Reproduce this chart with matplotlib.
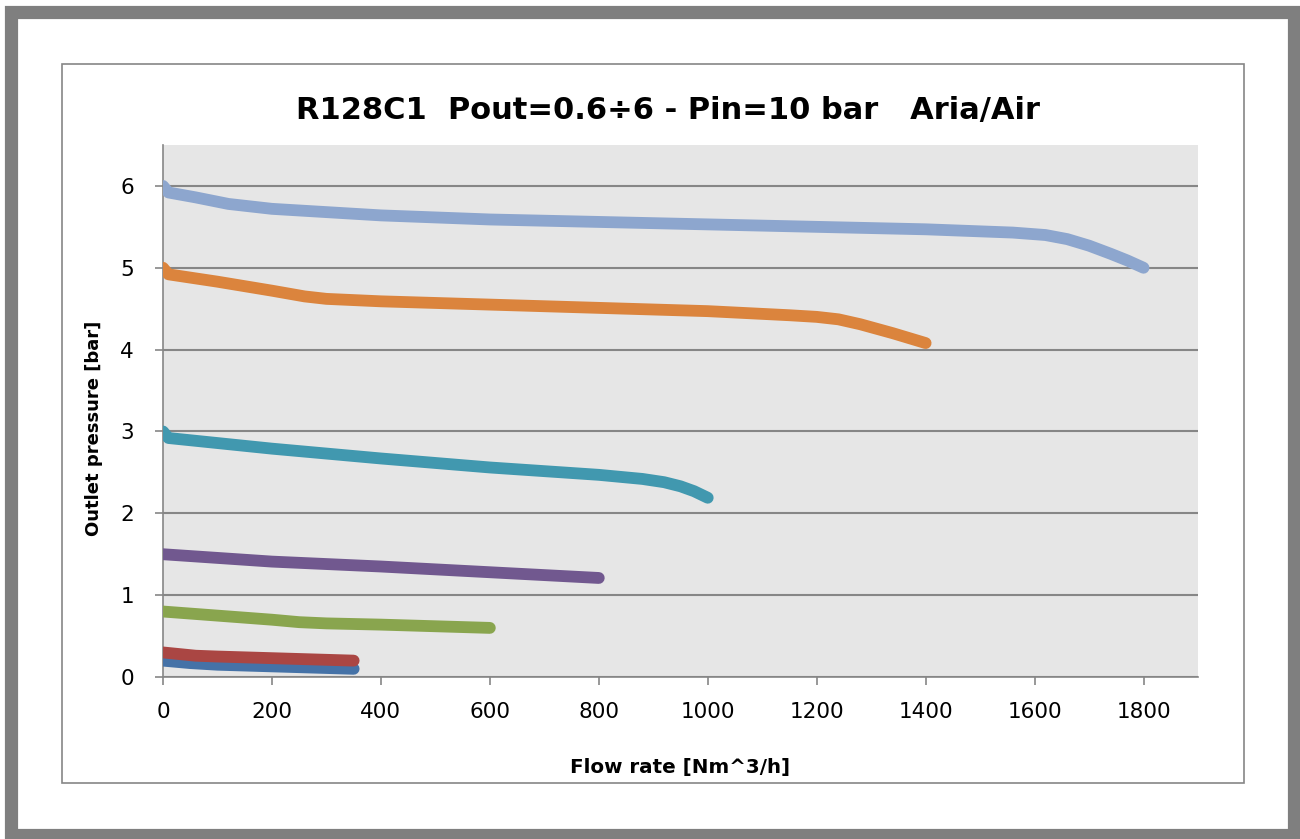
import matplotlib
matplotlib.use("Agg")
import matplotlib.pyplot as plt
from matplotlib.patches import Rectangle

# curve data: flow rate [Nm^3/h] vs outlet pressure [bar]
x_01 = [0, 50, 100, 200, 350]
y_01 = [0.20, 0.17, 0.15, 0.13, 0.10]
x_03 = [0, 30, 60, 100, 200, 350]
y_03 = [0.30, 0.28, 0.26, 0.25, 0.23, 0.20]
x_08 = [0, 100, 200, 250, 300, 400, 600]
y_08 = [0.80, 0.75, 0.70, 0.67, 0.655, 0.64, 0.60]
x_15 = [0, 200, 400, 600, 800]
y_15 = [1.50, 1.41, 1.35, 1.28, 1.21]
x_3 = [0, 10, 200, 400, 600, 800, 880, 920, 950, 975, 1000]
y_3 = [3.00, 2.92, 2.79, 2.67, 2.56, 2.47, 2.42, 2.38, 2.33, 2.27, 2.19]
x_5 = [0, 10, 100, 200, 260, 300, 400, 600, 1000, 1150, 1200, 1240, 1280, 1340, 1400]
y_5 = [5.00, 4.92, 4.83, 4.72, 4.65, 4.62, 4.59, 4.55, 4.47, 4.42, 4.40, 4.37, 4.31, 4.20, 4.08]
x_6 = [0, 10, 60, 120, 200, 300, 400, 600, 1000, 1400, 1560, 1620, 1660, 1700, 1740, 1770, 1800]
y_6 = [6.00, 5.92, 5.86, 5.78, 5.72, 5.68, 5.64, 5.59, 5.53, 5.47, 5.43, 5.40, 5.35, 5.27, 5.17, 5.09, 5.00]

series = [
    (x_01, y_01, '#4572A7'),
    (x_03, y_03, '#AA4643'),
    (x_08, y_08, '#89A54E'),
    (x_15, y_15, '#71588F'),
    (x_3, y_3, '#4198AF'),
    (x_5, y_5, '#DB843D'),
    (x_6, y_6, '#8DA6CE'),
]

W, H = 1300, 839
fig = plt.figure(figsize=(W / 100, H / 100), dpi=100)
fig.patch.set_facecolor('white')

# outer thick gray frame and inner chart border
fig.patches.append(Rectangle((10.5 / W, 1 - 834.5 / H), 1283 / W, 823 / H,
                             transform=fig.transFigure, fill=False,
                             edgecolor='#7f7f7f', linewidth=9.5))
fig.patches.append(Rectangle((62 / W, 1 - 783 / H), 1182 / W, 719 / H,
                             transform=fig.transFigure, fill=False,
                             edgecolor='#868686', linewidth=1.2))

ax = fig.add_axes([163 / W, 1 - 677 / H, (1198 - 163) / W, (677 - 145) / H])
ax.set_facecolor('#e6e6e6')

for xs, ys, c in series:
    ax.plot(xs, ys, color=c, lw=8.5, solid_capstyle='round',
            solid_joinstyle='round', zorder=3)

ax.set_xlim(0, 1900)
ax.set_ylim(0, 6.5)
ax.set_xticks(range(0, 1801, 200))
ax.set_yticks(range(0, 7))
ax.grid(axis='y', color='#868686', lw=1.5, zorder=1)
ax.set_axisbelow(True)

for s in ['top', 'right']:
    ax.spines[s].set_visible(False)
for s in ['left', 'bottom']:
    ax.spines[s].set_color('#868686')
    ax.spines[s].set_linewidth(1.2)
ax.tick_params(direction='out', length=6, width=1.2, color='#868686',
               labelsize=15.5)
ax.tick_params(axis='x', pad=12)
ax.tick_params(axis='y', pad=15)

ax.set_xlabel('Flow rate [Nm^3/h]', fontsize=14.3, fontweight='bold', labelpad=26)
ax.set_ylabel('Outlet pressure [bar]', fontsize=13, fontweight='bold')
ax.yaxis.set_label_coords(-0.058, 0.468)
fig.text(668 / W, 1 - 110 / H, 'R128C1  Pout=0.6÷6 - Pin=10 bar   Aria/Air',
         ha='center', va='center', fontsize=22, fontweight='bold')

fig.savefig('out.png', dpi=100)
